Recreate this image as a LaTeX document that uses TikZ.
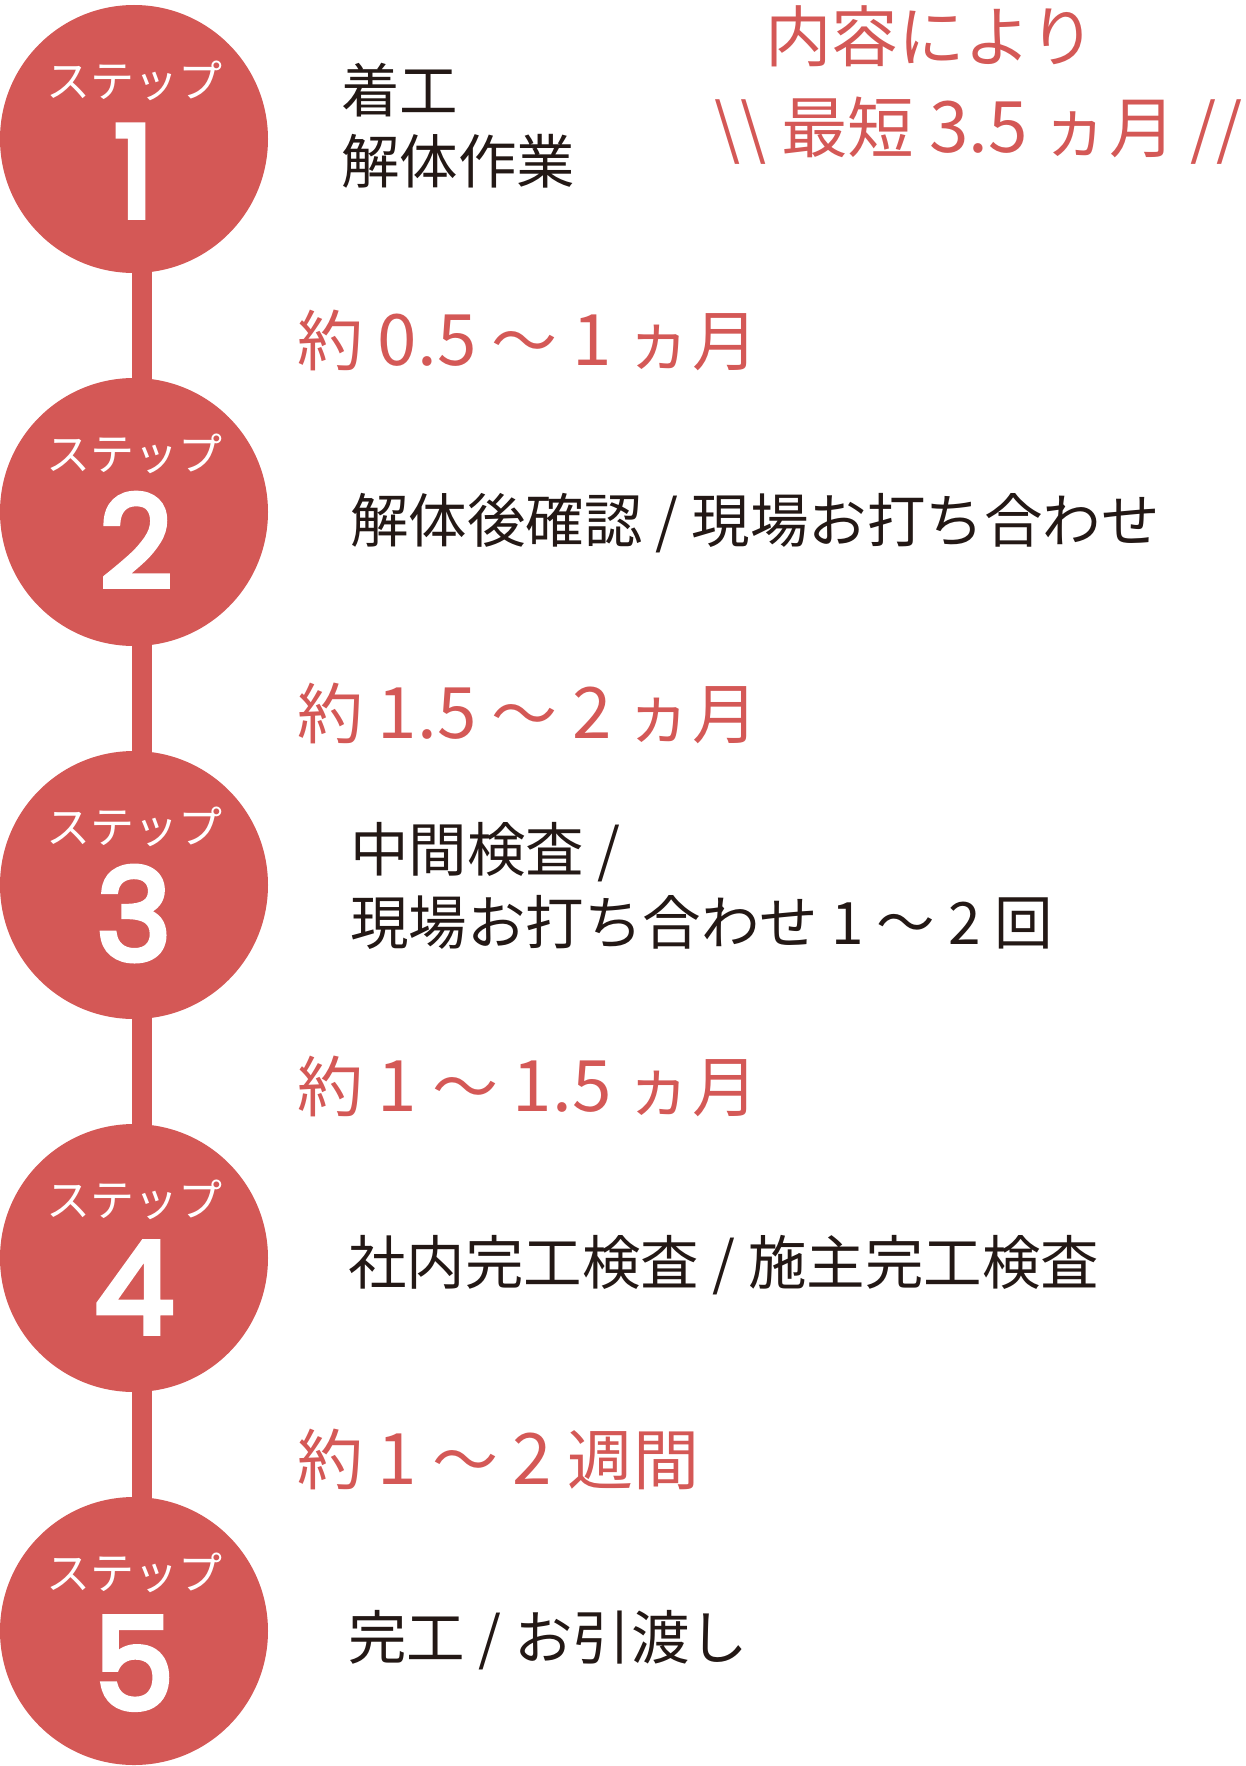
\documentclass[tikz,border=0pt]{standalone}
\usepackage{fontspec}
\setmainfont{Noto Sans CJK JP}
\newfontfamily\numfont[FakeBold=4.5]{Poppins}
\definecolor{stepred}{HTML}{D45856}
\definecolor{ink}{HTML}{231815}
\newcommand\durdig[1]{{\fontsize{71}{70}\selectfont #1}}
\newcommand\headdig[1]{{\fontsize{71}{70}\selectfont #1}}
\tikzset{
  stepdot/.style={circle, fill=stepred, minimum size=268pt, inner sep=0pt},
  steplabel/.style={text=white, inner sep=0pt, font=\fontsize{44}{50}\selectfont},
  stepnum/.style={text=white, inner sep=0pt, font=\numfont\fontsize{127}{130}\selectfont},
  stemline/.style={line width=20pt, stepred},
  desc/.style={text=ink, inner sep=0pt, anchor=base west, font=\fontsize{58.5}{70}\selectfont},
  dur/.style={text=stepred, inner sep=0pt, anchor=base west, font=\fontsize{66}{70}\selectfont},
  headline/.style={text=stepred, inner sep=0pt, anchor=base west, font=\fontsize{66.5}{70}\selectfont}
}
\begin{document}
\begin{tikzpicture}[x=1pt,y=-1pt]
\useasboundingbox (0,0) rectangle (1246,1766);
% circles
\node[stepdot] (c1) at (134,139) {};
\node[stepdot] (c2) at (134,512) {};
\node[stepdot] (c3) at (134,885) {};
\node[stepdot] (c4) at (134,1258) {};
\node[stepdot] (c5) at (134,1631) {};
% stem
\draw[stemline] ([xshift=8pt]c1.center) -- ([xshift=8pt]c5.center);
% step labels
\node[steplabel] (l1) at (134,81) {ステップ};
\node[steplabel] (l2) at (134,454) {ステップ};
\node[steplabel] (l3) at (134,827) {ステップ};
\node[steplabel] (l4) at (134,1200) {ステップ};
\node[steplabel] (l5) at (134,1573) {ステップ};
\node[stepnum, anchor=base] (n1) at (134,217) {1};
\node[stepnum, anchor=base] (n2) at (136,587) {2};
\node[stepnum, anchor=base] (n3) at (134,960) {3};
\node[stepnum, anchor=base] (n4) at (134,1333) {4};
\node[stepnum, anchor=base] (n5) at (134,1709) {5};
% descriptions
\node[desc] (d1a) at (341,113) {着工};
\node[desc] (d1b) at (341,183) {解体作業};
\node[desc] (d2) at (350,542) {解体後確認 / 現場お打ち合わせ};
\node[desc] (d3a) at (350,871) {中間検査 /};
\node[desc] (d3b) at (350,944) {現場お打ち合わせ 1 ～ 2 回};
\node[desc] (d4) at (348,1284) {社内完工検査 / 施主完工検査};
\node[desc] (d5) at (348,1659) {完工 / お引渡し};
% durations
\node[dur] (t1) at (297,365) {約 \durdig{0.5} ～ \durdig{1} ヵ月};
\node[dur] (t2) at (297,738) {約 \durdig{1.5} ～ \durdig{2} ヵ月};
\node[dur] (t3) at (297,1111) {約 \durdig{1} ～ \durdig{1.5} ヵ月};
\node[dur] (t4) at (297,1484) {約 \durdig{1} ～ \durdig{2} 週間};
% headline
\node[headline] (h1) at (765,62) {内容により};
\node[headline] (h2) at (714,153) {\textbackslash\textbackslash\ 最短 \headdig{3.5} ヵ月 //};
\end{tikzpicture}
\end{document}
